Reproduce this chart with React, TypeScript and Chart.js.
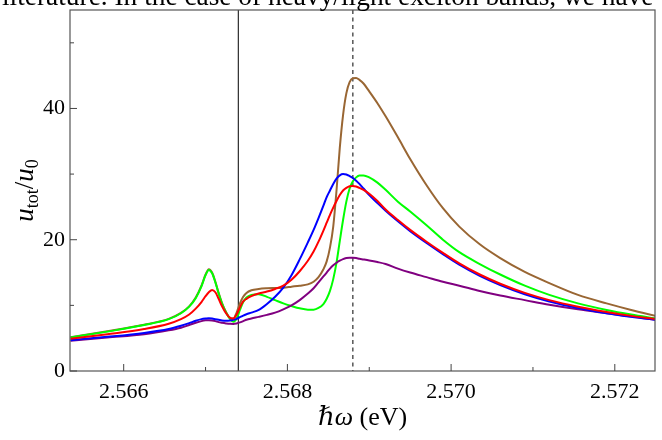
import React, { useEffect, useRef } from "react";
import { Chart, registerables } from "chart.js";

Chart.register(...registerables);

// photon energy (eV)
const energies = [
  2.56535, 2.5658, 2.56625, 2.56655, 2.5667, 2.5668, 2.56688, 2.56695, 2.567, 2.56704,
  2.56708, 2.56712, 2.56716, 2.5672, 2.56725, 2.5673, 2.56734, 2.56738, 2.56742, 2.56746,
  2.5675, 2.56756, 2.56765, 2.56775, 2.56785, 2.56795, 2.56805, 2.56815, 2.56825, 2.56832,
  2.56838, 2.56844, 2.56848, 2.56852, 2.56856, 2.5686, 2.56864, 2.56868, 2.56872, 2.56876,
  2.5688, 2.56884, 2.56888, 2.56893, 2.569, 2.5691, 2.5692, 2.56935, 2.5695, 2.5697,
  2.5699, 2.5701, 2.57035, 2.5706, 2.5709, 2.5712, 2.57155, 2.5719, 2.5722, 2.5725,
];

const redValues = [
  4.9, 5.6, 6.4, 7.2, 7.9, 8.6, 9.5, 10.5, 11.4, 12.0,
  12.35, 12.0, 11.0, 9.9, 8.8, 8.1, 8.0, 8.6, 9.7, 10.6,
  11.0, 11.4, 11.8, 12.1, 12.5, 13.0, 13.9, 15.2, 16.8, 18.2,
  19.7, 21.4, 22.6, 23.8, 24.9, 25.9, 26.8, 27.5, 27.9, 28.15,
  28.2, 28.1, 27.9, 27.6, 27.0, 25.9, 24.6, 23.0, 21.5, 19.7,
  18.0, 16.4, 14.7, 13.3, 11.9, 10.8, 9.8, 9.0, 8.4, 7.9,
];

const blueValues = [
  4.7, 5.2, 5.8, 6.4, 6.9, 7.3, 7.65, 7.9, 8.0, 8.05,
  8.0, 7.9, 7.8, 7.7, 7.65, 7.7, 7.8, 7.95, 8.2, 8.45,
  8.65, 8.9, 9.3, 10.2, 11.3, 12.7, 14.6, 17.0, 19.6, 21.5,
  23.3, 25.2, 26.5, 27.5, 28.5, 29.3, 29.8, 30.0, 29.95, 29.7,
  29.4, 29.0, 28.5, 27.8, 26.8, 25.6, 24.4, 22.8, 21.3, 19.5,
  17.8, 16.2, 14.5, 13.1, 11.7, 10.6, 9.6, 8.8, 8.25, 7.8,
];

const purpleValues = [
  4.6, 5.1, 5.6, 6.2, 6.6, 7.0, 7.35, 7.6, 7.72, 7.75,
  7.7, 7.6, 7.45, 7.35, 7.25, 7.18, 7.17, 7.25, 7.4, 7.6,
  7.8, 8.0, 8.25, 8.55, 8.9, 9.4, 10.0, 10.8, 11.8, 12.6,
  13.5, 14.4, 15.0, 15.6, 16.1, 16.5, 16.8, 17.05, 17.2, 17.25,
  17.25, 17.2, 17.1, 17.0, 16.85, 16.6, 16.3, 15.6, 15.0, 14.3,
  13.6, 13.0, 12.2, 11.5, 10.8, 10.1, 9.4, 8.8, 8.3, 7.8,
];

const greenValues = [
  5.1, 6.0, 7.0, 7.9, 8.8, 9.8, 11.1, 12.9, 14.6, 15.4,
  14.9, 13.5, 11.8, 10.3, 8.9, 7.9, 7.5, 8.0, 9.3, 10.5,
  11.2, 11.6, 11.7, 11.3, 10.8, 10.3, 9.9, 9.55, 9.35, 9.35,
  9.6, 10.2, 11.0, 12.2, 14.0, 16.5, 19.8, 23.0, 25.8, 27.8,
  28.9, 29.5, 29.8, 29.8, 29.5, 28.7, 27.6, 25.8, 24.3, 22.2,
  20.0, 18.1, 16.3, 14.7, 13.0, 11.6, 10.3, 9.3, 8.6, 8.0,
];

const brownValues = [
  5.15, 6.05, 7.05, 7.95, 8.85, 9.85, 11.2, 13.0, 14.7, 15.5,
  15.0, 13.6, 11.9, 10.4, 9.0, 8.1, 8.0, 8.9, 10.3, 11.3,
  11.9, 12.3, 12.5, 12.6, 12.65, 12.7, 12.85, 13.0, 13.2, 13.6,
  14.3, 15.5, 16.7, 18.8, 22.0, 27.5, 34.0, 39.0, 42.3, 44.0,
  44.6, 44.65, 44.35, 43.8, 42.6, 40.8, 38.8, 35.6, 32.3, 28.3,
  24.8, 22.0, 19.3, 17.2, 15.1, 13.4, 11.6, 10.3, 9.3, 8.4,
];

const xMajorTicks = [2.566, 2.568, 2.57, 2.572];
const xMinorTicks = [2.567, 2.569, 2.571];
const yMajorTicks = [0, 20, 40];
const yMinorTicks = [10, 30, 50];

const solidMarkerEnergy = 2.5674;
const dashedMarkerEnergy = 2.5688;

const xMin = 2.565344;
const xMax = 2.572491;
const yMin = 0;
const yMax = 55;

const topText = "literature. In the case of heavy/light exciton bands, we have";

const SERIF = "'Liberation Serif', 'DejaVu Serif', serif";

type Part = { text: string; size: number; italic?: boolean; dy?: number };

function drawParts(ctx: CanvasRenderingContext2D, parts: Part[], cx: number, baseline: number) {
  const widths = parts.map((p) => {
    ctx.font = `${p.italic ? "italic " : ""}${p.size}px ${SERIF}`;
    return ctx.measureText(p.text).width;
  });
  const total = widths.reduce((a, b) => a + b, 0);
  let x = cx - total / 2;
  ctx.textAlign = "left";
  ctx.textBaseline = "alphabetic";
  parts.forEach((p, i) => {
    ctx.font = `${p.italic ? "italic " : ""}${p.size}px ${SERIF}`;
    ctx.fillText(p.text, x, baseline + (p.dy || 0));
    x += widths[i];
  });
}

const markersPlugin = {
  id: "markers",
  beforeDatasetsDraw(chart: any) {
    const { ctx, chartArea: a, scales } = chart;
    ctx.save();
    ctx.strokeStyle = "#000";
    ctx.lineWidth = 1;
    const sx = scales.x.getPixelForValue(solidMarkerEnergy);
    ctx.beginPath();
    ctx.moveTo(sx, a.top);
    ctx.lineTo(sx, a.bottom);
    ctx.stroke();
    const dx = scales.x.getPixelForValue(dashedMarkerEnergy);
    ctx.setLineDash([4, 3.5]);
    ctx.beginPath();
    ctx.moveTo(dx, a.top);
    ctx.lineTo(dx, a.bottom);
    ctx.stroke();
    ctx.restore();
  },
  afterDraw(chart: any) {
    const { ctx, chartArea: a, scales } = chart;
    ctx.save();
    // frame
    ctx.strokeStyle = "#555";
    ctx.lineWidth = 1.2;
    ctx.strokeRect(a.left, a.top, a.right - a.left, a.bottom - a.top);
    // inward ticks
    ctx.lineWidth = 1;
    ctx.strokeStyle = "#444";
    const tick = (x1: number, y1: number, x2: number, y2: number) => {
      ctx.beginPath();
      ctx.moveTo(x1, y1);
      ctx.lineTo(x2, y2);
      ctx.stroke();
    };
    xMajorTicks.forEach((v) => {
      const px = scales.x.getPixelForValue(v);
      tick(px, a.bottom, px, a.bottom - 7);
    });
    xMinorTicks.forEach((v) => {
      const px = scales.x.getPixelForValue(v);
      tick(px, a.bottom, px, a.bottom - 4);
    });
    yMajorTicks.forEach((v) => {
      const py = scales.y.getPixelForValue(v);
      tick(a.left, py, a.left + 7, py);
    });
    yMinorTicks.forEach((v) => {
      const py = scales.y.getPixelForValue(v);
      tick(a.left, py, a.left + 4, py);
    });
    ctx.fillStyle = "#000";
    // top running text (cut off by page edge)
    ctx.font = `24px ${SERIF}`;
    const tw = ctx.measureText(topText).width;
    const size = (24 * 652) / tw;
    ctx.font = `${size}px ${SERIF}`;
    ctx.textAlign = "left";
    ctx.textBaseline = "alphabetic";
    ctx.fillText(topText, 2, 5);
    // x title
    drawParts(
      ctx,
      [
        { text: "ℏω", size: 26, italic: true },
        { text: " (eV)", size: 26 },
      ],
      (a.left + a.right) / 2,
      425
    );
    // y title
    ctx.translate(33, (a.top + a.bottom) / 2);
    ctx.rotate(-Math.PI / 2);
    drawParts(
      ctx,
      [
        { text: "u", size: 27, italic: true },
        { text: "tot", size: 18, dy: 5 },
        { text: "/", size: 27 },
        { text: "u", size: 27, italic: true },
        { text: "0", size: 18, dy: 5 },
      ],
      0,
      0
    );
    ctx.restore();
  },
};

function series(values: number[]) {
  return energies.map((e, i) => ({ x: e, y: values[i] }));
}

export default function App() {
  const canvasRef = useRef<HTMLCanvasElement | null>(null);

  useEffect(() => {
    document.body.style.margin = "0";
    const canvas = canvasRef.current;
    if (!canvas) return;
    const common = {
      borderWidth: 2,
      pointRadius: 0,
      fill: false,
      cubicInterpolationMode: "monotone" as const,
    };
    const chart = new Chart(canvas, {
      type: "line",
      data: {
        datasets: [
          { ...common, label: "red", data: series(redValues), borderColor: "#ff0000" },
          { ...common, label: "blue", data: series(blueValues), borderColor: "#0000ff" },
          { ...common, label: "purple", data: series(purpleValues), borderColor: "#800080" },
          { ...common, label: "green", data: series(greenValues), borderColor: "#00ff00" },
          { ...common, label: "brown", data: series(brownValues), borderColor: "#996633" },
        ],
      },
      options: {
        animation: false,
        responsive: false,
        maintainAspectRatio: false,
        layout: { padding: { top: 10, right: 7, left: 0, bottom: 0 } },
        plugins: { legend: { display: false }, tooltip: { enabled: false } },
        scales: {
          x: {
            type: "linear",
            min: xMin,
            max: xMax,
            grid: { display: false, drawTicks: false },
            border: { display: false },
            ticks: {
              color: "#000",
              font: { family: SERIF, size: 22 },
              padding: 8,
              maxRotation: 0,
              autoSkip: false,
              callback: (v: any) => Number(v).toFixed(3),
            },
            afterBuildTicks: (s: any) => {
              s.ticks = xMajorTicks.map((v) => ({ value: v }));
            },
            afterFit: (s: any) => {
              s.height = 69;
              s.paddingLeft = 0;
              s.paddingRight = 0;
            },
          },
          y: {
            type: "linear",
            min: yMin,
            max: yMax,
            grid: { display: false, drawTicks: false },
            border: { display: false },
            ticks: {
              color: "#000",
              font: { family: SERIF, size: 22 },
              padding: 5,
              autoSkip: false,
            },
            afterBuildTicks: (s: any) => {
              s.ticks = yMajorTicks.map((v) => ({ value: v }));
            },
            afterFit: (s: any) => {
              s.width = 70;
              s.paddingTop = 0;
              s.paddingBottom = 0;
            },
          },
        },
      },
      plugins: [markersPlugin],
    });
    return () => chart.destroy();
  }, []);

  return (
    <div style={{ position: "absolute", left: 0, top: 0, width: 662, height: 440, background: "#fff" }}>
      <canvas ref={canvasRef} width={662} height={440} style={{ width: 662, height: 440, display: "block" }} />
    </div>
  );
}
